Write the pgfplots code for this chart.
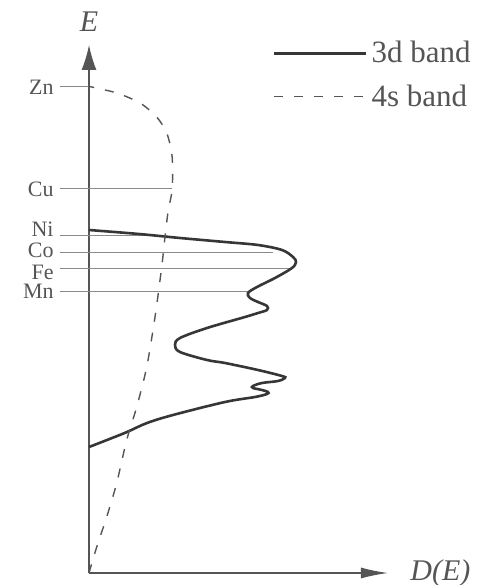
\documentclass[border=0pt]{standalone}
\usepackage{fontspec}
\setmainfont{Liberation Serif}
\usepackage{pgfplots}
\pgfplotsset{compat=1.18}
\usetikzlibrary{arrows.meta}

\definecolor{ink}{HTML}{363636}
\definecolor{axisgray}{HTML}{555555}
\definecolor{levelgray}{HTML}{8A8A8A}
\definecolor{labelgray}{HTML}{555555}

% 3d band density of states (D, E)
\pgfplotstableread{
D E
0 343
50 339
91 335
136 331
169 328
193 323
204 316
207 311
203 305
186 295
168 286
159 280
161 275
169 271
178 267
178 263
169 260
156 256
118 245
91 235
86 228
91 221
118 213
136 210
169 203
193 197
196 195
189 192
173 190
164 187
164 185
173 183
179 181
178 179
166 176
136 171
84 158
58 150
38 141
18 133
0 126
}\banddthree

% 4s band density of states (D, E)
\pgfplotstableread{
D E
0 0
7.7 26
17.7 56
27.7 90
37.7 133
47.7 166
57.7 206
66 256
72.7 306
76 336
79.3 363
82.7 380
83.7 400
82.7 420
77.7 440
67.7 456
51 470
27.7 480
2.7 486
0 487
}\bandfours

\begin{document}
\begin{tikzpicture}
\begin{axis}[
  x=0.5pt, y=0.5pt,
  xmin=0, xmax=299, ymin=0, ymax=528,
  axis lines=left,
  x axis line style={draw=axisgray, line width=0.7pt, -{Latex[length=13.5pt,width=5.5pt]}},
  y axis line style={draw=axisgray, line width=0.7pt, -{Latex[length=12.5pt,width=7.5pt]}},
  ticks=none,
  clip=false,
  legend cell align=left,
  legend style={at={(axis cs:184,536)}, anchor=north west, draw=none, fill=none,
    font=\fontsize{15.5pt}{18pt}\selectfont, text=labelgray, row sep=5.5pt,
    inner sep=0pt, outer sep=0pt,
    /tikz/every even column/.append style={column sep=0pt}},
  legend image code/.code={\draw[#1] (0pt,0pt) -- (46pt,0pt);},
]
% energy levels of the elements
\addplot[levelgray, line width=0.5pt, forget plot] coordinates {(-29,486) (0,486)};
\addplot[levelgray, line width=0.5pt, forget plot] coordinates {(-29,384) (83,384)};
\addplot[levelgray, line width=0.5pt, forget plot] coordinates {(-29,338) (55,338)};
\addplot[levelgray, line width=0.5pt, forget plot] coordinates {(-29,321) (184,321)};
\addplot[levelgray, line width=0.5pt, forget plot] coordinates {(-29,305) (203,305)};
\addplot[levelgray, line width=0.5pt, forget plot] coordinates {(-29,282) (159,282)};

\addplot[ink, line width=1.3pt, smooth, tension=0.55] table[x=D, y=E] {\banddthree};
\addlegendentry{3d band}
\addplot[axisgray, line width=0.7pt, smooth, tension=0.5, dash pattern=on 4.5pt off 5.5pt] table[x=D, y=E] {\bandfours};
\addlegendentry{4s band}

\begin{scope}[every node/.style={text=labelgray, font=\fontsize{11pt}{13pt}\selectfont, anchor=east, inner sep=0pt}]
\node at (axis cs:-35,486) {Zn};
\node at (axis cs:-35,384) {Cu};
\node at (axis cs:-35,344) {Ni};
\node at (axis cs:-35,323) {Co};
\node at (axis cs:-35,301) {Fe};
\node at (axis cs:-35,282) {Mn};
\end{scope}

\node[text=labelgray, font=\fontsize{15pt}{18pt}\selectfont\itshape] at (axis cs:0,551) {E};
\node[text=labelgray, font=\fontsize{15pt}{18pt}\selectfont\itshape, anchor=west, inner sep=0pt] at (axis cs:321,0) {D(E)};

\coordinate (bbsw) at (axis cs:-89,-12);
\coordinate (bbne) at (axis cs:392,573);
\end{axis}
\pgfresetboundingbox
\path[use as bounding box] (bbsw) rectangle (bbne);
\end{tikzpicture}
\end{document}
